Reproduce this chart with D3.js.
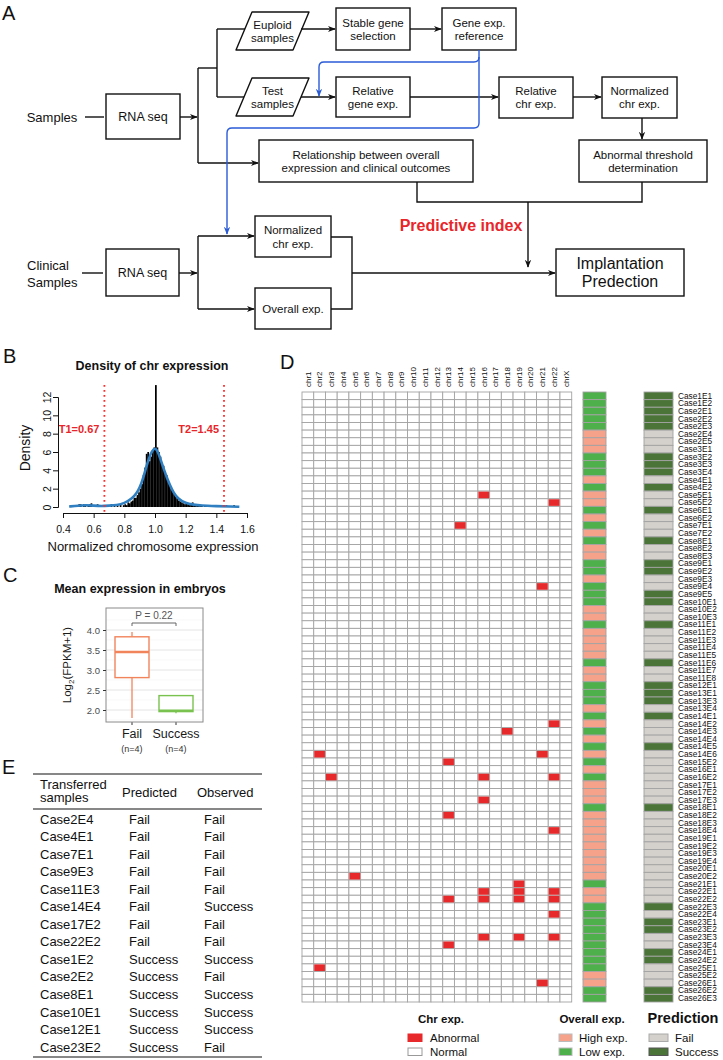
<!DOCTYPE html>
<html><head><meta charset="utf-8">
<script src="https://cdn.jsdelivr.net/npm/d3@7"></script>
<style>
body{margin:0;background:#fff;}
svg{display:block;font-family:"Liberation Sans",Arial,Helvetica,sans-serif;}
</style></head><body>
<svg id="fig" width="723" height="1060"></svg>
<script>
// ---------------- DATA ----------------
// Panel A flow text
const flowTexts = {
  euploid: ["Euploid", "samples"], stable: ["Stable gene", "selection"], geneRef: ["Gene exp.", "reference"],
  test: ["Test", "samples"], relGene: ["Relative", "gene exp."], relChr: ["Relative", "chr exp."],
  normChr: ["Normalized", "chr exp."], relation: ["Relationship between overall", "expression and clinical outcomes"],
  threshold: ["Abnormal threshold", "determination"], rna1: ["RNA seq"], rna2: ["RNA seq"],
  normChr2: ["Normalized", "chr exp."], overall2: ["Overall exp."], implant: ["Implantation", "Predection"]
};
const samplesLabel = ["Samples"];
const clinicalLabel = ["Clinical", "Samples"];
const predictiveIndexLabel = "Predictive index";

// Panel B: density histogram (bin width 0.01 starting at 0.45) and smooth density
const histStart = 0.45, histBinWidth = 0.01;
const histDensity = [
  0, 0, 0.1, 0, 0,
  0.3, 0.3, 0, 0.3, 0.1, 0, 0.2, 0.3, 0.4, 0,
  0, 0, 0.3, 0, 0, 0.1, 0, 0, 0, 0,
  0, 0.3, 0, 0.3, 0, 0.2, 0, 0.3, 0, 0.2,
  0.3, 0.2, 0.5, 0.4, 0.6, 0.7, 1.0, 1.0, 1.3, 1.6,
  2.0, 2.5, 3.5, 4.3, 5.8, 6.0, 5.0, 5.5, 6.2, 6.5,
  13.3, 6.5, 6.0, 5.5, 4.8, 4.5, 3.8, 3.5, 3.0, 2.5,
  2.0, 1.8, 1.4, 1.1, 0.9, 0.7, 0.6, 0.5, 0.4, 0.3,
  0.4, 0.3, 0.2, 0.3, 0.5, 0.2, 0.1, 0.2, 0.1, 0.1,
  0.2, 0, 0.2, 0.1, 0.2, 0, 0.2, 0, 0.2, 0,
  0.2, 0, 0.2, 0.1, 0, 0, 0.2, 0, 0, 0.1,
  0, 0.2, 0, 0, 0
];
const kdeX = [0.44, 0.50, 0.55, 0.60, 0.65, 0.70, 0.75, 0.80, 0.85, 0.88, 0.90, 0.92, 0.94, 0.96, 0.98, 1.00, 1.02, 1.04, 1.06, 1.08, 1.10, 1.12, 1.15, 1.20, 1.25, 1.30, 1.40, 1.50, 1.55];
const kdeY = [0.05, 0.15, 0.2, 0.15, 0.1, 0.15, 0.2, 0.4, 0.9, 1.5, 2.1, 3.0, 4.2, 5.3, 6.1, 6.5, 6.0, 5.0, 4.0, 3.1, 2.3, 1.6, 0.9, 0.4, 0.25, 0.15, 0.1, 0.05, 0.02];
const thresholds = [0.67, 1.45];
const thresholdLabels = ["T1=0.67", "T2=1.45"];
const bXTicks = [0.4, 0.6, 0.8, 1.0, 1.2, 1.4, 1.6];
const bYTicks = [0, 2, 4, 6, 8, 10, 12];

// Panel C: box plot summary (min, q1, median, q3, max)
const boxGroups = ["Fail", "Success"];
const boxCounts = ["(n=4)", "(n=4)"];
const boxStats = [[1.80, 2.81, 3.45, 3.83, 3.95], [1.92, 1.96, 1.98, 2.36, 2.37]];
const cYTicks = [2.0, 2.5, 3.0, 3.5, 4.0];
const pValueLabel = "P = 0.22";

// Panel D: heatmap
const chromosomes = ["chr1","chr2","chr3","chr4","chr5","chr6","chr7","chr8","chr9","chr10","chr11","chr12","chr13","chr14","chr15","chr16","chr17","chr18","chr19","chr20","chr21","chr22","chrX"];
const sampleIds = [
  "Case1E1","Case1E2","Case2E1","Case2E2","Case2E3","Case2E4","Case2E5","Case3E1","Case3E2","Case3E3","Case3E4","Case4E1","Case4E2","Case5E1","Case5E2","Case6E1","Case6E2","Case7E1","Case7E2","Case8E1","Case8E2","Case8E3","Case9E1","Case9E2","Case9E3","Case9E4","Case9E5","Case10E1",
  "Case10E2","Case10E3","Case11E1","Case11E2","Case11E3","Case11E4","Case11E5","Case11E6","Case11E7","Case11E8","Case12E1","Case13E1","Case13E3","Case13E4","Case14E1","Case14E2","Case14E3","Case14E4","Case14E5","Case14E6","Case15E2","Case16E1","Case16E2","Case17E1","Case17E2","Case17E3","Case18E1","Case18E2",
  "Case18E3","Case18E4","Case19E1","Case19E2","Case19E3","Case19E4","Case20E1","Case20E2","Case21E1","Case22E1","Case22E2","Case22E3","Case22E4","Case23E1","Case23E2","Case23E3","Case23E4","Case24E1","Case24E2","Case25E1","Case25E2","Case26E1","Case26E2","Case26E3"
];
// H = High exp., L = Low exp.
const overallExp = [
  "L","L","L","L","L","H","H","H","L","L","L","H","L","H","H","L","H","L","H","L","H","H","L","L","H","L","L","L",
  "H","H","L","H","H","H","H","L","H","H","L","L","L","H","L","H","L","H","L","H","L","H","L","H","H","H","L","H",
  "H","H","H","H","H","H","H","H","L","H","H","L","L","L","L","L","L","L","L","L","H","H","L","L"
];
// S = Success, F = Fail
const prediction = [
  "S","S","S","S","S","F","F","F","S","S","S","F","S","F","F","S","F","F","F","S","F","F","S","S","F","F","S","S",
  "F","F","S","F","F","F","F","S","F","F","S","S","S","F","S","F","F","F","S","F","F","F","F","F","F","F","S","F",
  "F","F","F","F","F","F","F","F","F","F","F","S","F","S","S","F","F","S","S","F","F","F","S","S"
];
const abnormalCells = [
  ["Case5E1","chr16"],["Case5E2","chr22"],["Case7E1","chr14"],["Case9E4","chr21"],
  ["Case14E2","chr22"],["Case14E3","chr18"],["Case14E6","chr2"],["Case14E6","chr21"],
  ["Case15E2","chr13"],["Case16E2","chr3"],["Case16E2","chr16"],["Case16E2","chr22"],
  ["Case17E3","chr16"],["Case18E2","chr13"],["Case18E4","chr22"],["Case20E2","chr5"],
  ["Case21E1","chr19"],["Case22E1","chr16"],["Case22E1","chr19"],["Case22E1","chr22"],
  ["Case22E2","chr13"],["Case22E2","chr16"],["Case22E2","chr19"],["Case22E2","chr22"],
  ["Case22E4","chr22"],["Case23E3","chr16"],["Case23E3","chr19"],["Case23E3","chr22"],
  ["Case23E4","chr13"],["Case25E1","chr2"],["Case26E1","chr21"]
];
const legendChrTitle = "Chr exp.", legendChrItems = ["Abnormal", "Normal"];
const legendOverallTitle = "Overall exp.", legendOverallItems = ["High exp.", "Low exp."];
const legendPredTitle = "Prediction", legendPredItems = ["Fail", "Success"];

// Panel E: table
const tableHeader = [["Transferred", "samples"], ["Predicted"], ["Observed"]];
const tableSamples = ["Case2E4","Case4E1","Case7E1","Case9E3","Case11E3","Case14E4","Case17E2","Case22E2","Case1E2","Case2E2","Case8E1","Case10E1","Case12E1","Case23E2"];
const tablePredicted = ["Fail","Fail","Fail","Fail","Fail","Fail","Fail","Fail","Success","Success","Success","Success","Success","Success"];
const tableObserved = ["Fail","Fail","Fail","Fail","Fail","Success","Fail","Fail","Success","Fail","Success","Success","Success","Fail"];

// ---------------- DRAW ----------------
const svg = d3.select("#fig");
const defs = svg.append("defs");
function marker(id, color) {
  defs.append("marker").attr("id", id).attr("viewBox", "0 0 10 10").attr("refX", 9).attr("refY", 5)
    .attr("markerWidth", 8).attr("markerHeight", 8).attr("markerUnits", "userSpaceOnUse").attr("orient", "auto")
    .append("path").attr("d", "M0,1 L10,5 L0,9 L3,5 Z").attr("fill", color);
}
marker("arrK", "#111"); marker("arrB", "#2a5bd7");

function panelLabel(t, x, y) {
  svg.append("text").attr("x", x).attr("y", y).attr("font-size", 20).attr("fill", "#111").text(t);
}

// ===== Panel A =====
const A = svg.append("g");
function multiText(g, cx, cy, lines, fs, lh, weight) {
  const t = g.append("text").attr("text-anchor", "middle").attr("font-size", fs).attr("fill", "#111");
  if (weight) t.attr("font-weight", weight);
  lines.forEach((l, i) => {
    t.append("tspan").attr("x", cx).attr("y", cy - (lines.length - 1) * lh / 2 + i * lh + fs * 0.35).text(l);
  });
}
function rectBox(x, y, w, h, lines, fs = 11.5, lh = 13) {
  A.append("rect").attr("x", x).attr("y", y).attr("width", w).attr("height", h)
    .attr("fill", "#fff").attr("stroke", "#111").attr("stroke-width", 1.4);
  multiText(A, x + w / 2, y + h / 2, lines, fs, lh);
}
function paraBox(x, y, w, h, lines, skew = 16) {
  A.append("path").attr("d", `M${x + skew},${y} L${x + w},${y} L${x + w - skew},${y + h} L${x},${y + h} Z`)
    .attr("fill", "#fff").attr("stroke", "#111").attr("stroke-width", 1.4).attr("stroke-linejoin", "round");
  multiText(A, x + w / 2, y + h / 2, lines, 11.5, 13);
}
function line(pts, arrow, color = "#111", w = 1.4) {
  const p = A.append("path").attr("d", d3.line()(pts)).attr("fill", "none").attr("stroke", color).attr("stroke-width", w);
  if (arrow) p.attr("marker-end", `url(#${arrow})`);
}

panelLabel("A", 2, 20);
paraBox(236, 12, 73, 38, flowTexts.euploid);
rectBox(336, 8, 74, 42, flowTexts.stable);
rectBox(442, 8, 74, 42, flowTexts.geneRef);
paraBox(236, 78, 73, 38, flowTexts.test);
rectBox(336, 77, 74, 40, flowTexts.relGene);
rectBox(499, 77, 74, 41, flowTexts.relChr);
rectBox(602, 77, 75, 41, flowTexts.normChr);
rectBox(259, 140, 214, 42, flowTexts.relation, 11.5, 13);
rectBox(579, 140, 128, 42, flowTexts.threshold, 11.5, 13);
rectBox(106, 94, 74, 45, flowTexts.rna1, 12.5);
rectBox(106, 249, 73, 47, flowTexts.rna2, 12.5);
rectBox(255, 216, 76, 41, flowTexts.normChr2, 11.5, 14);
rectBox(255, 288, 76, 41, flowTexts.overall2, 11.5);
rectBox(556, 249, 128, 47, flowTexts.implant, 16, 18);

multiText(A, 52, 117, samplesLabel, 13, 14);
A.append("text").attr("x", 27).attr("y", 270).attr("font-size", 13).attr("fill", "#111").text(clinicalLabel[0]);
A.append("text").attr("x", 27).attr("y", 287).attr("font-size", 13).attr("fill", "#111").text(clinicalLabel[1]);
A.append("text").attr("x", 461).attr("y", 231).attr("text-anchor", "middle").attr("font-size", 16)
  .attr("font-weight", "bold").attr("fill", "#e8262a").text(predictiveIndexLabel);

// connectors top part
line([[85, 117], [104, 117]]);
line([[180, 117], [197, 117]], "arrK");
line([[198, 68], [198, 163]]);
line([[198, 68], [217, 68]]);
line([[217, 29], [217, 97]]);
line([[217, 29], [245, 29]]);
line([[217, 97], [244, 97]]);
line([[301, 29], [335, 29]], "arrK");
line([[410, 29], [441, 29]], "arrK");
line([[301, 97], [335, 97]], "arrK");
line([[410, 97], [498, 97]], "arrK");
line([[573, 97], [601, 97]], "arrK");
line([[642, 118], [642, 139]], "arrK");
line([[198, 163], [258, 163]], "arrK");
line([[417, 182], [417, 202], [642, 202], [642, 182]]);
line([[528, 202], [528, 267]], "arrK");
// clinical part
line([[82, 273], [103, 273]]);
line([[179, 273], [197, 273]], "arrK");
line([[198, 236], [198, 309]]);
line([[198, 236], [254, 236]], "arrK");
line([[198, 309], [254, 309]], "arrK");
line([[331, 237], [352, 237], [352, 309], [331, 309]]);
line([[352, 273], [555, 273]], "arrK");
// blue lines
A.append("path").attr("d", "M479,50 L479,123 Q479,128 474,128 L232,128 Q227,128 227,133 L227,234")
  .attr("fill", "none").attr("stroke", "#2a5bd7").attr("stroke-width", 1.4).attr("marker-end", "url(#arrB)");
A.append("path").attr("d", "M479,57 Q479,62 474,62 L324,62 Q319,62 319,67 L319,96")
  .attr("fill", "none").attr("stroke", "#2a5bd7").attr("stroke-width", 1.4).attr("marker-end", "url(#arrB)");

// ===== Panel B =====
panelLabel("B", 3, 363);
const B = svg.append("g");
const xB = d3.scaleLinear().domain([0.4, 1.6]).range([63, 247]);
const yB = d3.scaleLinear().domain([0, 12]).range([507, 397]);
B.append("text").attr("x", 152).attr("y", 370).attr("text-anchor", "middle").attr("font-size", 12.5)
  .attr("font-weight", "bold").attr("fill", "#111").text("Density of chr expression");
B.selectAll("rect.bin").data(histDensity).join("rect").attr("class", "bin")
  .attr("x", (d, i) => xB(histStart + i * histBinWidth))
  .attr("width", xB(histStart + histBinWidth) - xB(histStart) + 0.2)
  .attr("y", d => yB(d)).attr("height", d => yB(0) - yB(d)).attr("fill", "#000");
B.append("path").datum(kdeX.map((x, i) => [x, kdeY[i]]))
  .attr("d", d3.line().x(d => xB(d[0])).y(d => yB(d[1])).curve(d3.curveBasis))
  .attr("fill", "none").attr("stroke", "#2f7fc1").attr("stroke-width", 2.6);
thresholds.forEach((t, i) => {
  B.append("line").attr("x1", xB(t)).attr("x2", xB(t)).attr("y1", 385).attr("y2", 513)
    .attr("stroke", "#ff2a2a").attr("stroke-width", 1.8).attr("stroke-dasharray", "1.8,3.2");
  B.append("text").attr("x", xB(t) - 5).attr("y", 433).attr("text-anchor", "end").attr("font-size", 11)
    .attr("font-weight", "bold").attr("fill", "#e8262a").text(thresholdLabels[i]);
});
const bxAxis = B.append("g").attr("transform", "translate(0,513)")
  .call(d3.axisBottom(xB).tickValues(bXTicks).tickFormat(d3.format(".1f")).tickSizeOuter(0).tickSize(5));
bxAxis.selectAll("text").attr("font-size", 10.5).attr("fill", "#111").attr("dy", "1.1em").attr("font-family", "Liberation Sans, Arial");
bxAxis.selectAll("line,path").attr("stroke", "#111");
const byAxis = B.append("g").attr("transform", "translate(58,0)")
  .call(d3.axisLeft(yB).tickValues(bYTicks).tickSizeOuter(0).tickSize(5));
byAxis.selectAll("text").attr("font-size", 10.5).attr("fill", "#111").attr("font-family", "Liberation Sans, Arial")
  .attr("transform", "rotate(-90)").attr("text-anchor", "middle").attr("x", 0).attr("dy", 0)
  .attr("y", -7);
byAxis.selectAll("line,path").attr("stroke", "#111");
B.append("text").attr("transform", "translate(30,448) rotate(-90)").attr("text-anchor", "middle")
  .attr("font-size", 14).attr("fill", "#111").text("Density");
B.append("text").attr("x", 153).attr("y", 551).attr("text-anchor", "middle").attr("font-size", 13)
  .attr("fill", "#111").text("Normalized chromosome expression");

// ===== Panel C =====
panelLabel("C", 3, 582);
const C = svg.append("g");
C.append("text").attr("x", 140).attr("y", 593).attr("text-anchor", "middle").attr("font-size", 12.5)
  .attr("font-weight", "bold").attr("fill", "#111").text("Mean expression in embryos");
const cLeft = 106, cRight = 203, cTop = 608, cBottom = 722;
const yC = d3.scaleLinear().domain([1.7, 4.55]).range([cBottom, cTop]);
const xC = d3.scaleBand().domain(boxGroups).range([110, 198]);
const minorTicks = [1.75, 2.25, 2.75, 3.25, 3.75, 4.25];
C.selectAll("line.minor").data(minorTicks).join("line").attr("class", "minor")
  .attr("x1", cLeft).attr("x2", cRight).attr("y1", d => yC(d)).attr("y2", d => yC(d))
  .attr("stroke", "#f3f3f3").attr("stroke-width", 0.6);
C.selectAll("line.major").data(cYTicks).join("line").attr("class", "major")
  .attr("x1", cLeft).attr("x2", cRight).attr("y1", d => yC(d)).attr("y2", d => yC(d))
  .attr("stroke", "#e4e4e4").attr("stroke-width", 1);
const boxColors = ["#f2845c", "#79c24f"];
boxStats.forEach((s, i) => {
  const cx = xC(boxGroups[i]) + xC.bandwidth() / 2, w = 34;
  const col = boxColors[i];
  C.append("line").attr("x1", cx).attr("x2", cx).attr("y1", yC(s[4])).attr("y2", yC(s[3])).attr("stroke", col).attr("stroke-width", 1.3);
  C.append("line").attr("x1", cx).attr("x2", cx).attr("y1", yC(s[1])).attr("y2", yC(s[0])).attr("stroke", col).attr("stroke-width", 1.3);
  C.append("rect").attr("x", cx - w / 2).attr("y", yC(s[3])).attr("width", w).attr("height", yC(s[1]) - yC(s[3]))
    .attr("fill", "#fff").attr("stroke", col).attr("stroke-width", 1.4);
  C.append("line").attr("x1", cx - w / 2).attr("x2", cx + w / 2).attr("y1", yC(s[2])).attr("y2", yC(s[2]))
    .attr("stroke", col).attr("stroke-width", 2.6);
  C.append("text").attr("x", cx).attr("y", 738).attr("text-anchor", "middle").attr("font-size", 12.5).attr("fill", "#1a1a1a").text(boxGroups[i]);
  C.append("text").attr("x", cx).attr("y", 752).attr("text-anchor", "middle").attr("font-size", 9).attr("fill", "#333").text(boxCounts[i]);
  C.append("line").attr("x1", cx).attr("x2", cx).attr("y1", cBottom).attr("y2", cBottom + 3).attr("stroke", "#333");
});
C.append("rect").attr("x", cLeft).attr("y", cTop).attr("width", cRight - cLeft).attr("height", cBottom - cTop)
  .attr("fill", "none").attr("stroke", "#8a8a8a").attr("stroke-width", 1);
const cyAxis = C.append("g").attr("transform", `translate(${cLeft},0)`)
  .call(d3.axisLeft(yC).tickValues(cYTicks).tickFormat(d3.format(".1f")).tickSize(3).tickSizeOuter(0));
cyAxis.select("path").remove();
cyAxis.selectAll("line").attr("stroke", "#333");
cyAxis.selectAll("text").attr("font-size", 9.5).attr("fill", "#4d4d4d").attr("font-family", "Liberation Sans, Arial");
const c0 = xC("Fail") + xC.bandwidth() / 2, c1 = xC("Success") + xC.bandwidth() / 2;
C.append("path").attr("d", `M${c0},626 L${c0},623 L${c1},623 L${c1},626`).attr("fill", "none").attr("stroke", "#555").attr("stroke-width", 0.9);
C.append("text").attr("x", (c0 + c1) / 2).attr("y", 619).attr("text-anchor", "middle").attr("font-size", 10).attr("fill", "#555").text(pValueLabel);
const ylab = C.append("text").attr("transform", "translate(71,665) rotate(-90)").attr("text-anchor", "middle")
  .attr("font-size", 11.5).attr("fill", "#1a1a1a");
ylab.append("tspan").text("Log");
ylab.append("tspan").attr("font-size", 8).attr("dy", 3).text("2");
ylab.append("tspan").attr("dy", -3).text("(FPKM+1)");

// ===== Panel D =====
panelLabel("D", 280, 369);
const D = svg.append("g");
const xD = d3.scaleBand().domain(chromosomes).range([302, 571.7]);
const yD = d3.scaleBand().domain(sampleIds).range([392, 1002]);
const gridStroke = "#a3a3a3";
const cellData = [];
sampleIds.forEach(s => chromosomes.forEach(c => cellData.push({ s, c })));
D.selectAll("rect.cell").data(cellData).join("rect").attr("class", "cell")
  .attr("x", d => xD(d.c)).attr("y", d => yD(d.s)).attr("width", xD.bandwidth()).attr("height", yD.bandwidth())
  .attr("fill", "#fff").attr("stroke", gridStroke).attr("stroke-width", 0.9);
D.selectAll("rect.abn").data(abnormalCells).join("rect").attr("class", "abn")
  .attr("x", d => xD(d[1]) + 0.5).attr("y", d => yD(d[0]) + 0.5)
  .attr("width", xD.bandwidth() - 1).attr("height", yD.bandwidth() - 1).attr("fill", "#e8292b");
D.selectAll("text.chr").data(chromosomes).join("text").attr("class", "chr")
  .attr("transform", d => `translate(${xD(d) + xD.bandwidth() / 2 + 2.8},387) rotate(-90)`)
  .attr("font-size", 8).attr("fill", "#111").text(d => d);
const highCol = "#f6a28b", lowCol = "#4db04a", failCol = "#d4d0cb", succCol = "#4b7538";
D.selectAll("rect.ov").data(sampleIds).join("rect").attr("class", "ov")
  .attr("x", 583).attr("y", d => yD(d)).attr("width", 23).attr("height", yD.bandwidth())
  .attr("fill", (d, i) => overallExp[i] === "H" ? highCol : lowCol).attr("stroke", gridStroke).attr("stroke-width", 0.9);
D.selectAll("rect.pr").data(sampleIds).join("rect").attr("class", "pr")
  .attr("x", 644).attr("y", d => yD(d)).attr("width", 29).attr("height", yD.bandwidth())
  .attr("fill", (d, i) => prediction[i] === "S" ? succCol : failCol).attr("stroke", gridStroke).attr("stroke-width", 0.9);
D.selectAll("text.row").data(sampleIds).join("text").attr("class", "row")
  .attr("x", 678).attr("y", d => yD(d) + yD.bandwidth() / 2 + 2.9)
  .attr("font-size", 8.3).attr("fill", "#111").text(d => d);

// legends
function legend(title, tx, tfs, items, colors, strokes, rx, rw, textX) {
  D.append("text").attr("x", tx).attr("y", 1023).attr("text-anchor", "middle").attr("font-size", tfs)
    .attr("font-weight", "bold").attr("fill", "#111").text(title);
  items.forEach((it, i) => {
    const y = 1034 + i * 14;
    D.append("rect").attr("x", rx).attr("y", y).attr("width", rw).attr("height", 7.5)
      .attr("fill", colors[i]).attr("stroke", strokes[i]).attr("stroke-width", 1);
    D.append("text").attr("x", textX).attr("y", y + 8).attr("font-size", 11.5).attr("fill", "#111").text(it);
  });
}
legend(legendChrTitle, 441, 11.5, legendChrItems, ["#e8292b", "#fff"], ["#e8292b", "#999"], 408, 14, 430);
legend(legendOverallTitle, 592, 11.5, legendOverallItems, [highCol, lowCol], ["#bbb", "#bbb"], 559, 13, 579);
legend(legendPredTitle, 683, 14.5, legendPredItems, [failCol, succCol], ["#aaa", "#555"], 649, 19, 675);

// ===== Panel E =====
panelLabel("E", 2, 774);
const E = svg.append("g");
const rule = y => E.append("line").attr("x1", 33).attr("x2", 262).attr("y1", y).attr("y2", y).attr("stroke", "#111").attr("stroke-width", 1.2);
rule(774); rule(809); rule(1057);
const colX = [40, 129, 197];
E.append("text").attr("x", colX[0]).attr("y", 789).attr("font-size", 13).attr("fill", "#111").text(tableHeader[0][0]);
E.append("text").attr("x", colX[0]).attr("y", 802).attr("font-size", 13).attr("fill", "#111").text(tableHeader[0][1]);
E.append("text").attr("x", 122).attr("y", 797).attr("font-size", 13).attr("fill", "#111").text(tableHeader[1][0]);
E.append("text").attr("x", colX[2]).attr("y", 797).attr("font-size", 13).attr("fill", "#111").text(tableHeader[2][0]);
const yE = d3.scalePoint().domain(tableSamples).range([819, 1047]);
tableSamples.forEach((s, i) => {
  const y = yE(s) + 4.6;
  E.append("text").attr("x", colX[0]).attr("y", y).attr("font-size", 13).attr("fill", "#111").text(s);
  E.append("text").attr("x", colX[1]).attr("y", y).attr("font-size", 13).attr("fill", "#111").text(tablePredicted[i]);
  E.append("text").attr("x", 204).attr("y", y).attr("font-size", 13).attr("fill", "#111").text(tableObserved[i]);
});
</script>
</body></html>
